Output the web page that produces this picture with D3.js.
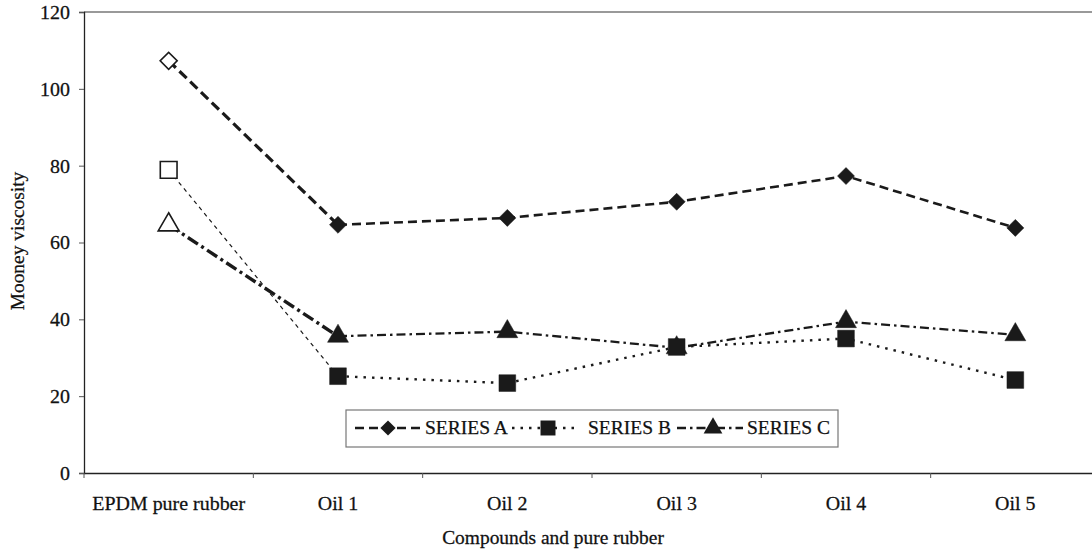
<!DOCTYPE html>
<html>
<head>
<meta charset="utf-8">
<script src="https://cdn.jsdelivr.net/npm/d3@7"></script>
<style>
  html, body { margin: 0; padding: 0; background: #fff; }
  svg text { font-family: "Liberation Serif", "Times New Roman", serif; fill: #111; stroke: #111; stroke-width: 0.25px; }
</style>
</head>
<body>
<svg id="chart" width="1092" height="554"></svg>
<script>
const categories = ["EPDM pure rubber", "Oil 1", "Oil 2", "Oil 3", "Oil 4", "Oil 5"];
const seriesNames = ["SERIES A", "SERIES B", "SERIES C"];
const seriesA = [107.3, 64.6, 66.4, 70.6, 77.3, 63.8];
const seriesB = [78.9, 25.2, 23.4, 32.8, 35.0, 24.2];
const seriesC = [64.6, 35.6, 36.8, 32.6, 39.4, 36.0];
const yTicks = [0, 20, 40, 60, 80, 100, 120];
const xTitle = "Compounds and pure rubber";
const yTitle = "Mooney viscosity";

const svg = d3.select("#chart");
const margin = { left: 84, top: 12, right: -8, bottom: 81 };
const W = 1092, H = 554;
const sx = 1.05; // horizontal stretch of the scanned text

const x = d3.scaleBand().domain(categories).range([margin.left, W - margin.right]).padding(0);
const y = d3.scaleLinear().domain([0, 120]).range([H - margin.bottom, margin.top]);
const cx = d => x(d) + x.bandwidth() / 2;

// top frame line
svg.append("line").attr("x1", margin.left).attr("x2", W).attr("y1", y(120)).attr("y2", y(120))
  .attr("stroke", "#777").attr("stroke-width", 1.5);

// y axis
const yAxis = svg.append("g").attr("transform", `translate(${margin.left},0)`)
  .call(d3.axisLeft(y).tickValues(yTicks).tickSize(5).tickPadding(9).tickFormat(d3.format("d")));
yAxis.select(".domain").attr("stroke", "#222").attr("stroke-width", 1.3);
yAxis.selectAll(".tick line").attr("stroke", "#555");
yAxis.selectAll(".tick text").attr("font-size", 19)
  .attr("dy", "0.34em")
  .attr("transform", function() { const xx = +d3.select(this).attr("x"); return `translate(${xx*(1-sx)},0) scale(${sx},1)`; });

// x axis
const xAxis = svg.append("g").attr("transform", `translate(0,${y(0)})`)
  .call(d3.axisBottom(x).tickSize(0).tickFormat(""));
xAxis.select(".domain").attr("stroke", "#222").attr("stroke-width", 1.3);
xAxis.selectAll(".tick").remove();
const bounds = categories.map(c => x(c)).concat([x(categories[categories.length - 1]) + x.bandwidth()]);
svg.append("g").selectAll("line").data(bounds).join("line")
  .attr("x1", d => d).attr("x2", d => d).attr("y1", y(0)).attr("y2", y(0) + 5)
  .attr("stroke", "#555").attr("stroke-width", 1);
svg.append("g").selectAll("text").data(categories).join("text")
  .attr("transform", d => `translate(${cx(d)},${y(0) + 37}) scale(${sx},1)`)
  .attr("text-anchor", "middle").attr("font-size", 19).text(d => d);

// axis titles
svg.append("text").attr("transform", `translate(553,${H - 10}) scale(1.08,1)`)
  .attr("text-anchor", "middle").attr("font-size", 18).text(xTitle);
svg.append("text").attr("transform", `translate(24,241) rotate(-90) scale(1.08,1)`)
  .attr("text-anchor", "middle").attr("font-size", 18).text(yTitle);

// series styles (the first segment from the pure rubber point is drawn in its own style)
const styles = [
  { data: seriesA, dash: "9,5", width: 2.6, first: { dash: "10,5", width: 3.2 }, marker: d3.symbolSquare, rot: 45, size: 145 },
  { data: seriesB, dash: "2.5,6", width: 2.4, first: { dash: "4,4", width: 1.2 }, marker: d3.symbolSquare, rot: 0, size: 280 },
  { data: seriesC, dash: "9,4,2.5,4", width: 2.3, first: { dash: "12,4,3,4", width: 3.4 }, marker: d3.symbolTriangle, rot: 0, size: 190 }
];
const line = d3.line().x(d => cx(categories[d.i])).y(d => y(d.v));

styles.forEach(s => {
  const pts = s.data.map((v, i) => ({ v, i }));
  svg.append("path").datum(pts.slice(0, 2)).attr("d", line).attr("fill", "none")
    .attr("stroke", "#1a1a1a").attr("stroke-width", s.first.width).attr("stroke-dasharray", s.first.dash);
  svg.append("path").datum(pts.slice(1)).attr("d", line).attr("fill", "none")
    .attr("stroke", "#1a1a1a").attr("stroke-width", s.width).attr("stroke-dasharray", s.dash);
});
// markers: squares drawn last so they sit on top where they meet triangles
[styles[0], styles[2], styles[1]].forEach(s => {
  svg.append("g").selectAll("path").data(s.data).join("path")
    .attr("transform", (d, i) => `translate(${cx(categories[i])},${y(d)}) rotate(${s.rot})`)
    .attr("d", d3.symbol().type(s.marker).size(s.size))
    .attr("fill", (d, i) => i === 0 ? "#fff" : "#1a1a1a")
    .attr("stroke", "#1a1a1a").attr("stroke-width", (d, i) => i === 0 ? 1.6 : 0.5);
});

// legend
const lg = svg.append("g");
lg.append("rect").attr("x", 346).attr("y", 410).attr("width", 492).attr("height", 37)
  .attr("fill", "#fff").attr("stroke", "#777").attr("stroke-width", 1.2);
const legendItems = [
  { x0: 355, x1: 420, mx: 388, tx: 425 },
  { x0: 512, x1: 580, mx: 548, tx: 588 },
  { x0: 677, x1: 743, mx: 713, tx: 747 }
];
legendItems.forEach((it, k) => {
  const s = styles[k];
  lg.append("line").attr("x1", it.x0).attr("x2", it.x1).attr("y1", 428).attr("y2", 428)
    .attr("stroke", "#1a1a1a").attr("stroke-width", s.width).attr("stroke-dasharray", s.dash);
  lg.append("path").attr("transform", `translate(${it.mx},428) rotate(${s.rot})`)
    .attr("d", d3.symbol().type(s.marker).size(s.size * 0.8)).attr("fill", "#1a1a1a");
  lg.append("text").attr("transform", `translate(${it.tx},434)`)
    .attr("font-size", 19.5).text(seriesNames[k]);
});
</script>
</body>
</html>
